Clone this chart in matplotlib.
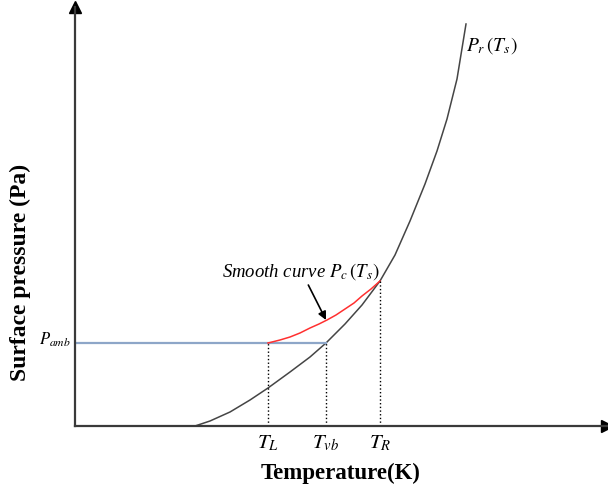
import matplotlib.pyplot as plt

plt.rcParams['mathtext.fontset'] = 'stix'
plt.rcParams['font.family'] = ['Liberation Serif', 'DejaVu Serif']

# schematic vapour-pressure curve P_r(T_s) (arbitrary units)
temp_curve = [120, 135, 155, 175, 193, 215, 235, 251, 270, 287, 305, 320, 335, 350, 362, 372, 382, 391]
pres_curve = [0, 5, 14, 26, 38, 54, 69, 83, 102, 121, 145, 171, 205, 242, 275, 307, 347, 402]

# smooth curve P_c(T_s) joining T_L and T_R
temp_smooth = [193, 205, 215, 225, 235, 244, 252, 261, 270, 279, 287, 296, 305]
pres_smooth = [83, 86, 89, 93, 98, 102, 106, 111, 117, 123, 130, 137, 145]

# characteristic temperatures and ambient pressure
t_marks = {"L": 193, "vb": 251, "R": 305}
p_amb = 83
p_at_R = 145

fig = plt.figure(figsize=(6.08, 4.89), dpi=100)
ax = fig.add_axes([75 / 608, 62 / 489, 532 / 608, 419 / 489])
ax.set_xlim(0, 532)
ax.set_ylim(0, 419)
for s in ["top", "right"]:
    ax.spines[s].set_visible(False)
for s in ["left", "bottom"]:
    ax.spines[s].set_color("#3a3a3a")
    ax.spines[s].set_linewidth(1.6)
ax.set_xticks([])
ax.set_yticks([])
ax.plot(1, 0, ">", color="black", ms=9, transform=ax.transAxes, clip_on=False)
ax.plot(0, 1, "^", color="black", ms=9, transform=ax.transAxes, clip_on=False)

ax.plot(temp_curve, pres_curve, color="#454545", lw=1.1, solid_joinstyle="round")
ax.plot([0, t_marks["vb"]], [p_amb, p_amb], color="#8da6c8", lw=1.6)
ax.plot(temp_smooth, pres_smooth, color="#ff3030", lw=1.1, solid_joinstyle="round")

ax.plot([t_marks["L"]] * 2, [0, p_amb], ls=":", color="black", lw=1)
ax.plot([t_marks["vb"]] * 2, [0, p_amb], ls=":", color="black", lw=1)
ax.plot([t_marks["R"]] * 2, [0, p_at_R], ls=":", color="black", lw=1)

for key, t in t_marks.items():
    ax.text(t, -7, r"$T_{%s}$" % key, ha="center", va="top", fontsize=15,
            clip_on=False)

ax.text(-36, p_amb + 4, r"$P_{amb}$", ha="left", va="center", fontsize=12,
        clip_on=False)
ax.text(391, 381, r"$P_r\,(T_s)$", ha="left", va="center", fontsize=14)

ax.annotate(r"Smooth curve $P_c\,(T_s)$", xy=(251, 106), xytext=(226, 145),
            ha="center", va="bottom", fontsize=13.5, style="italic",
            arrowprops=dict(arrowstyle="-|>", color="black", lw=1.2,
                            shrinkA=1, shrinkB=0, mutation_scale=12))

ax.set_xlabel("Temperature(K)", fontsize=16.5, fontweight="bold", labelpad=26)
fig.text(20 / 608, 1 - 272 / 489, "Surface pressure (Pa)", rotation=90,
         ha="center", va="center", fontsize=17, fontweight="bold")

fig.savefig("out.png", dpi=100)
